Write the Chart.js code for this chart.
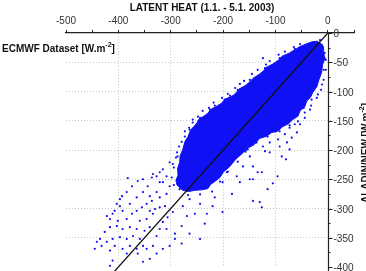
<!DOCTYPE html>
<html>
<head>
<meta charset="utf-8">
<script src="https://cdn.jsdelivr.net/npm/chart.js@4/dist/chart.umd.min.js"></script>
<style>
html, body { margin: 0; padding: 0; background: #fff; }
#wrap { width: 366px; height: 271px; }
</style>
</head>
<body>
<div id="wrap"><canvas id="latentChart" width="366" height="271"></canvas></div>
<script>
// axis ticks
var xTickValues = [-500, -400, -300, -200, -100, 0];
var yTickValues = [0, -50, -100, -150, -200, -250, -300, -350, -400];

// 1:1 reference line (ECMWF = ALADIN)
var refLineX = [0, -470];
var refLineY = [0, -470];

// outline of the dense part of the cloud [ECMWF, ALADIN]
var corePoints = [
    [-19, -14], [-30, -15], [-42, -19], [-55, -24], [-60, -27], [-73, -34], [-88, -40], [-92, -45],
    [-105, -53], [-118, -59], [-122, -64], [-130, -70], [-142, -77], [-150, -84], [-156, -89],
    [-170, -96], [-175, -102], [-181, -107], [-196, -113], [-203, -120], [-210, -124], [-224, -131],
    [-229, -137], [-235, -141], [-247, -148], [-250, -154], [-254, -158], [-262, -166], [-267, -177],
    [-273, -186], [-277, -199], [-282, -210], [-283, -221], [-287, -232], [-286, -243], [-290, -252],
    [-288, -260], [-277, -269], [-266, -271], [-254, -269], [-240, -268], [-229, -266], [-224, -259],
    [-216, -254], [-206, -247], [-199, -237], [-188, -229], [-176, -216], [-166, -208], [-153, -197],
    [-141, -191], [-130, -180], [-118, -177], [-107, -170], [-96, -168], [-86, -160], [-75, -155],
    [-67, -148], [-57, -142], [-53, -133], [-44, -126], [-40, -116], [-33, -110], [-29, -102],
    [-21, -92], [-17, -80], [-12, -68], [-10, -54], [-6, -44], [-8, -32], [-8, -25], [-11, -19]
];

// loose points in the lower left tail
var tailPoints = [
    [-382, -248], [-363, -253], [-353, -250], [-374, -262], [-344, -262], [-334, -241], [-321, -238], [-308, -245], [-296, -224], [-287, -211],
    [-321, -255], [-327, -272], [-340, -279], [-353, -272], [-365, -281], [-378, -292], [-393, -279], [-397, -296], [-403, -292], [-392, -304],
    [-411, -309], [-416, -318], [-401, -321], [-384, -318], [-374, -309], [-365, -304], [-355, -298], [-346, -292], [-336, -287], [-321, -281],
    [-308, -275], [-302, -262], [-288, -250], [-359, -321], [-346, -318], [-334, -309], [-340, -332], [-350, -338], [-365, -335], [-378, -332],
    [-392, -335], [-403, -330], [-416, -332], [-426, -340], [-435, -352], [-441, -357], [-445, -369], [-432, -364], [-422, -357], [-411, -352],
    [-397, -349], [-384, -352], [-372, -347], [-359, -352], [-353, -364], [-365, -369], [-378, -364], [-392, -369], [-407, -364], [-416, -372],
    [-384, -377], [-363, -377], [-346, -369], [-334, -364], [-327, -347], [-321, -335], [-315, -323], [-306, -315], [-296, -306], [-308, -335],
    [-292, -343], [-292, -352], [-302, -364], [-315, -369], [-327, -377], [-340, -386], [-353, -391], [-411, -389], [-416, -398], [-269, -313],
    [-277, -296], [-279, -330], [-264, -284], [-283, -267], [-321, -298], [-330, -301], [-340, -304], [-311, -296], [-384, -272], [-397, -284],
    [-407, -304], [-422, -313]
];

// loose points below and right of the dense part
var lowPoints = [
    [-231, -309], [-201, -306], [-220, -296], [-143, -287], [-88, -211], [-96, -245], [-105, -257], [-126, -238], [-143, -250], [-124, -194],
    [-111, -204], [-130, -289], [-126, -298], [-155, -199], [-149, -211], [-162, -228], [-143, -228], [-174, -245], [-168, -255], [-193, -238],
    [-201, -255], [-149, -250], [-134, -238], [-183, -275], [-216, -281], [-244, -292], [-254, -309], [-235, -326], [-264, -343], [-279, -360],
    [-244, -352], [-115, -267], [-80, -216], [-73, -199], [-59, -170], [-53, -156], [-44, -145], [-34, -131],
    [-73, -162], [-82, -173], [-95, -182], [-111, -187], [-69, -179], [-92, -194], [-120, -202], [-101, -168], [-63, -156], [-78, -187]
];

// ragged edge of the dense part
var edgePoints = [
    [-124, -43], [-273, -177], [-225, -131], [-231, -143], [-258, -153], [-264, -165], [-250, -194], [-277, -211], [-288, -204], [-302, -221],
    [-315, -233], [-327, -245], [-336, -247], [-315, -255], [-197, -114], [-172, -97], [-149, -80], [-120, -60], [-92, -43], [-63, -27],
    [-244, -145], [-216, -124], [-187, -107], [-267, -182], [-6, -34], [-4, -46], [-8, -63], [-11, -88], [-19, -105], [-31, -114],
    [-46, -128], [-61, -141], [-76, -151], [-95, -158], [-115, -165], [-126, -177], [-139, -187], [-153, -199], [-10, -24], [-15, -12],
    [-53, -19], [-65, -24], [-82, -32], [-94, -37], [-111, -48], [-118, -54], [-134, -63], [-145, -70], [-160, -82], [-168, -87],
    [-177, -94], [-191, -104], [-202, -111], [-218, -119], [-227, -128], [-239, -133], [-248, -143], [-258, -148], [-265, -162], [-273, -168],
    [-279, -186], [-284, -194], [-290, -213], [-294, -230], [-298, -247], [-294, -260],
    [-6, -43], [-4, -63], [-8, -80], [-13, -97], [-21, -111], [-32, -124], [-44, -136], [-57, -151], [-73, -158], [-92, -168],
    [-115, -177], [-136, -187], [-157, -203], [-172, -220], [-191, -237], [-206, -254], [-221, -271], [-244, -276], [-267, -277]
];

function toXY(list) {
    return list.map(function(p) { return { x: p[0], y: p[1] }; });
}

var looseData = toXY(tailPoints).concat(toXY(lowPoints)).concat(toXY(edgePoints));
var refData = refLineX.map(function(v, i) { return { x: v, y: refLineY[i] }; });

var FONT = '"Liberation Sans", Arial, sans-serif';
var BLUE = '#1010f4';
var GRID = '#c8c8c8';
var CLIP = { left: 0, top: 0, right: 0, bottom: 4 };

var crossAxis = {
    id: 'crossAxis',
    afterDraw: function(chart) {
        var ctx = chart.ctx;
        var xs = chart.scales.x;
        var ys = chart.scales.y;
        var area = chart.chartArea;
        var x0 = Math.round(xs.getPixelForValue(0)) + 0.5;

        ctx.save();
        ctx.strokeStyle = '#222';
        ctx.lineWidth = 1.2;
        ctx.beginPath();
        ctx.moveTo(x0, area.top);
        ctx.lineTo(x0, chart.height);
        ctx.stroke();

        ctx.lineWidth = 1;
        ctx.fillStyle = '#333';
        ctx.font = '10px ' + FONT;
        ctx.textAlign = 'left';
        ctx.textBaseline = 'middle';
        for (var i = 0; i < yTickValues.length; i++) {
            var py = Math.round(ys.getPixelForValue(yTickValues[i])) + 0.5;
            ctx.beginPath();
            ctx.moveTo(x0, py);
            ctx.lineTo(x0 + 4, py);
            ctx.stroke();
            ctx.fillText(String(yTickValues[i]), x0 + 5, py + 0.5);
            if (i < yTickValues.length - 1) {
                var pm = Math.round(ys.getPixelForValue((yTickValues[i] + yTickValues[i + 1]) / 2)) + 0.5;
                ctx.beginPath();
                ctx.moveTo(x0, pm);
                ctx.lineTo(x0 + 2, pm);
                ctx.stroke();
            }
        }

        ctx.fillStyle = '#111';
        ctx.textBaseline = 'alphabetic';
        ctx.font = 'bold 10px ' + FONT;
        ctx.textAlign = 'center';
        ctx.fillText('LATENT HEAT (1.1. - 5.1. 2003)', 202, 10.5);

        ctx.textAlign = 'left';
        var lx = 2, ly = 51.5;
        var t1 = 'ECMWF Dataset [W.m';
        ctx.fillText(t1, lx, ly);
        lx += ctx.measureText(t1).width;
        ctx.font = 'bold 7px ' + FONT;
        ctx.fillText('-2', lx, ly - 5);
        lx += ctx.measureText('-2').width;
        ctx.font = 'bold 10px ' + FONT;
        ctx.fillText(']', lx, ly);

        ctx.translate(368.5, 153);
        ctx.rotate(-Math.PI / 2);
        var t2 = 'ALADIN/NEW [W.m';
        ctx.font = 'bold 10px ' + FONT;
        var w2 = ctx.measureText(t2).width;
        ctx.font = 'bold 7px ' + FONT;
        var w3 = ctx.measureText('-2').width;
        ctx.font = 'bold 10px ' + FONT;
        var w4 = ctx.measureText(']').width;
        var sx = -(w2 + w3 + w4) / 2;
        ctx.fillText(t2, sx, 0);
        ctx.font = 'bold 7px ' + FONT;
        ctx.fillText('-2', sx + w2, -5);
        ctx.font = 'bold 10px ' + FONT;
        ctx.fillText(']', sx + w2 + w3, 0);
        ctx.restore();
    }
};

var ctx = document.getElementById('latentChart').getContext('2d');

var myChart = new Chart(ctx, {
    type: 'scatter',
    data: {
        datasets: [{
            type: 'line',
            data: refData,
            borderColor: '#111',
            borderWidth: 1.3,
            pointRadius: 0,
            fill: false,
            clip: CLIP,
            order: 0
        }, {
            data: looseData,
            pointRadius: 1.1,
            pointBackgroundColor: BLUE,
            pointBorderWidth: 0,
            clip: CLIP,
            order: 1
        }, {
            type: 'line',
            data: toXY(corePoints),
            borderColor: BLUE,
            borderWidth: 1,
            backgroundColor: BLUE,
            pointRadius: 0,
            tension: 0,
            fill: 'shape',
            order: 2
        }]
    },
    options: {
        responsive: false,
        animation: false,
        devicePixelRatio: 1,
        layout: {
            padding: { left: 66, right: 12, top: 12, bottom: 0 }
        },
        plugins: {
            legend: { display: false },
            tooltip: { enabled: false },
            title: { display: false }
        },
        scales: {
            x: {
                type: 'linear',
                position: 'top',
                min: -500,
                max: 50,
                ticks: {
                    stepSize: 50,
                    autoSkip: false,
                    maxRotation: 0,
                    padding: 3,
                    color: '#333',
                    font: { family: FONT, size: 10 },
                    callback: function(v) {
                        return xTickValues.indexOf(v) >= 0 ? String(v) : '';
                    }
                },
                grid: {
                    color: function(c) {
                        var v = c.tick ? c.tick.value : null;
                        return (v !== null && v > -500 && v < 0 && v % 100 === 0) ? GRID : 'rgba(0,0,0,0)';
                    },
                    tickColor: '#222',
                    tickLength: 3,
                    lineWidth: 1
                },
                border: { color: '#222', width: 1.2, dash: [1, 2] }
            },
            y: {
                type: 'linear',
                position: 'left',
                min: -400,
                max: 0,
                ticks: { display: false, stepSize: 50 },
                grid: {
                    drawTicks: false,
                    color: function(c) {
                        var v = c.tick ? c.tick.value : null;
                        return (v !== null && v < 0 && v > -400 && v % 50 === 0) ? GRID : 'rgba(0,0,0,0)';
                    },
                    lineWidth: 1
                },
                border: { display: false, dash: [1, 2] }
            }
        }
    },
    plugins: [crossAxis]
});
</script>
</body>
</html>
